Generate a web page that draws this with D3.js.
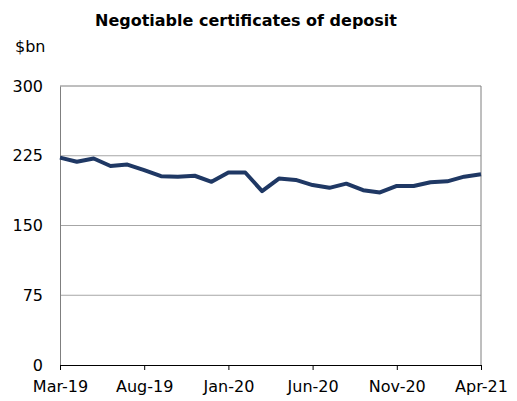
<!DOCTYPE html>
<html>
<head>
<meta charset="utf-8">
<script src="https://cdn.jsdelivr.net/npm/d3@7"></script>
<style>
  html, body { margin: 0; padding: 0; background: #fff; }
  svg { display: block; font-family: "DejaVu Sans", sans-serif; }
</style>
</head>
<body>
<svg id="chart" width="517" height="401"></svg>
<script>
// Monthly series, Mar-19 to Apr-21
const months = ["Mar-19","Apr-19","May-19","Jun-19","Jul-19","Aug-19","Sep-19","Oct-19","Nov-19","Dec-19",
  "Jan-20","Feb-20","Mar-20","Apr-20","May-20","Jun-20","Jul-20","Aug-20","Sep-20","Oct-20",
  "Nov-20","Dec-20","Jan-21","Feb-21","Mar-21","Apr-21"];
const values = [223, 218.5, 222, 214, 215.5, 209.5, 203, 202.5, 203.5, 197,
  207, 207, 187, 200.5, 199, 193.5, 190.5, 195, 188, 185.5,
  192.5, 192.5, 196.5, 197.5, 202.5, 205];
const yTicks = [0, 75, 150, 225, 300];
const xTickLabels = ["Mar-19","Aug-19","Jan-20","Jun-20","Nov-20","Apr-21"];

const svg = d3.select("#chart");
const m = { left: 60, right: 481, top: 86, bottom: 365 };

const x = d3.scalePoint().domain(months).range([m.left, m.right]);
const y = d3.scaleLinear().domain([0, 300]).range([m.bottom, m.top]);

// Title and unit
svg.append("text").attr("x", 246).attr("y", 26).attr("text-anchor", "middle")
  .attr("font-size", 16).attr("font-weight", "bold").attr("fill", "#000")
  .text("Negotiable certificates of deposit");
svg.append("text").attr("x", 15).attr("y", 52).attr("font-size", 16).attr("fill", "#000").text("$bn");

// Horizontal gridlines
svg.append("g").selectAll("line").data(yTicks.filter(d => d > 0 && d < 300)).join("line")
  .attr("x1", m.left).attr("x2", m.right)
  .attr("y1", d => y(d)).attr("y2", d => y(d))
  .attr("stroke", "#a6a6a6").attr("stroke-width", 1);

// Plot frame: top and right edges
svg.append("path")
  .attr("d", `M${m.left},${m.top}H${m.right}V${m.bottom}`)
  .attr("fill", "none").attr("stroke", "#7f7f7f").attr("stroke-width", 1);

// Y axis labels
const yAxis = d3.axisLeft(y).tickValues(yTicks).tickSize(0).tickPadding(17);
const gy = svg.append("g").attr("transform", `translate(${m.left},0)`).call(yAxis);
gy.select(".domain").attr("stroke", "#7f7f7f");
gy.selectAll("text").attr("font-size", 16).attr("font-family", "DejaVu Sans, sans-serif").attr("fill", "#000");

// X axis
const xAxis = d3.axisBottom(x).tickValues(xTickLabels).tickSize(5).tickSizeOuter(0).tickPadding(11);
const gx = svg.append("g").attr("transform", `translate(0,${m.bottom})`).call(xAxis);
gx.select(".domain").attr("stroke", "#000");
gx.selectAll(".tick line").attr("stroke", "#000");
gx.selectAll("text").attr("font-size", 16).attr("font-family", "DejaVu Sans, sans-serif").attr("fill", "#000");

// Series line
const line = d3.line().x((d, i) => x(months[i])).y(d => y(d));
svg.append("path").datum(values).attr("d", line)
  .attr("fill", "none").attr("stroke", "#1f3864").attr("stroke-width", 4)
  .attr("stroke-linejoin", "round");
</script>
</body>
</html>
